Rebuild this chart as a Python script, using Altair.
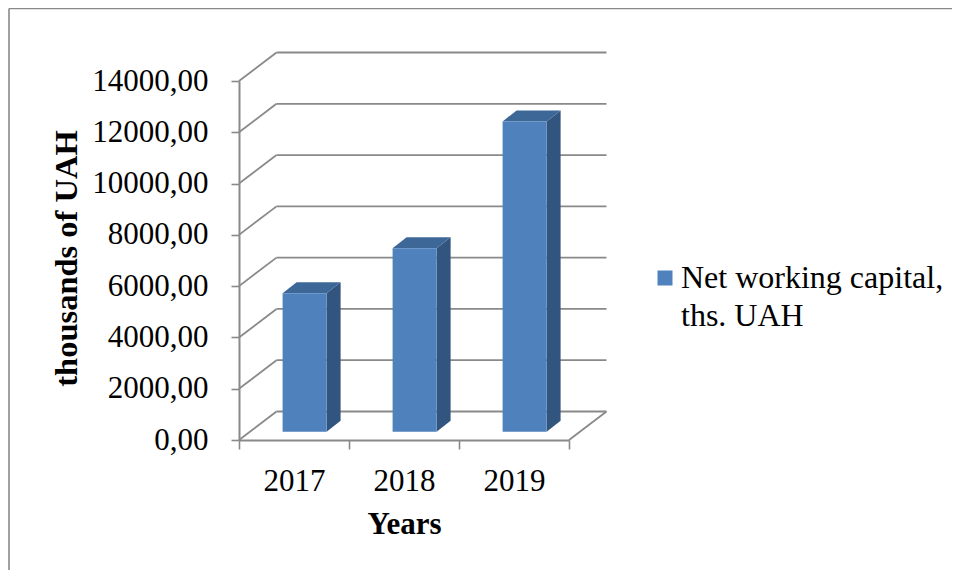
import json
import altair as alt
import pandas as pd

# ---------------- data ----------------
years = ["2017", "2018", "2019"]
values = [5400, 7150, 12100]
series_name = "Net working capital, ths. UAH"
legend_lines = ["Net working capital,", "ths. UAH"]
y_ticks = [0, 2000, 4000, 6000, 8000, 10000, 12000, 14000]
x_title = "Years"
y_title = "thousands of UAH"

# ---------------- geometry / style constants ----------------
W, H = 330, 359            # front plane of the 3-D frame (plot area)
Y_MAX = 14000
N = len(years)
UX = N / W                 # data units per pixel (x)
UY = Y_MAX / H             # data units per pixel (y)

WALL_DX, WALL_DY = 37.5, 28.5        # depth of the frame, px (right / up)
BAR_DX, BAR_DY = 10.6, 8.3           # bar front plane inside the frame, px
BAR_DEPTH_DX, BAR_DEPTH_DY = 14.0, 11.0
BAR_W = 44.0

FRONT = "#4F81BD"
TOP = "#3D6797"
SIDE = "#32557F"
GRID = "#898989"
FONT = "Liberation Serif"

# ---------------- frame (walls / floor) ----------------
wdx, wdy = WALL_DX * UX, WALL_DY * UY
grid_rows = []
for v in y_ticks:
    grid_rows.append(dict(x=wdx, x2=N + wdx, y=v + wdy, y2=v + wdy))   # back wall
    grid_rows.append(dict(x=0.0, x2=wdx, y=v, y2=v + wdy))             # side wall
grid_rows.append(dict(x=float(N), x2=N + wdx, y=0.0, y2=wdy))           # floor edge
grid = pd.DataFrame(grid_rows)

# ---------------- bars ----------------
bdx, bdy = BAR_DEPTH_DX * UX, BAR_DEPTH_DY * UY
front_rows, side_rows, top_rows = [], [], []
for i, (yr, v) in enumerate(zip(years, values)):
    xl = i + 0.5 + (BAR_DX - BAR_W / 2) * UX
    xr = xl + BAR_W * UX
    y0 = BAR_DY * UY
    yt = v + y0
    front_rows.append(dict(year=yr, series=series_name, x=xl, x2=xr, y=yt, y2=y0))
    side_rows += [dict(year=yr, x=xr, y=yt, y2=y0),
                  dict(year=yr, x=xr + bdx, y=yt + bdy, y2=y0 + bdy)]
    top_rows += [dict(year=yr, x=xl, y=yt, y2=yt),
                 dict(year=yr, x=xl + bdx, y=yt, y2=yt + bdy),
                 dict(year=yr, x=xr, y=yt, y2=yt + bdy),
                 dict(year=yr, x=xr + bdx, y=yt + bdy, y2=yt + bdy)]
front = pd.DataFrame(front_rows)
side = pd.DataFrame(side_rows)
top = pd.DataFrame(top_rows)

xs = alt.Scale(domain=[0, N], nice=False, zero=False)
ys = alt.Scale(domain=[0, Y_MAX], nice=False, zero=False)

x_vals = [k / 2 for k in range(2 * N + 1)]
x_label_expr = "datum.value % 1 == 0 ? '' : " + json.dumps(years) + "[floor(datum.value)]"

x_axis = alt.Axis(
    values=x_vals, labelExpr=x_label_expr, title=x_title, grid=False,
    tickSize=9, tickOpacity={"condition": {"test": "datum.value % 1 == 0", "value": 1}, "value": 0},
    labelFontSize=31, labelBaseline="alphabetic", labelPadding=41,
    labelFlush=False, labelOverlap=False,
    titleFontSize=31, titleFontWeight="bold", titleBaseline="alphabetic",
    titleX=W / 2, titleY=93,
)
y_axis = alt.Axis(
    values=y_ticks, labelExpr="replace(format(datum.value, '.2f'), '.', ',')",
    title=y_title, grid=False, tickSize=8, labelPadding=23, labelFontSize=31,
    labelBaseline="middle", labelFlush=False, labelOverlap=False,
    titleFontSize=32.5, titleFontWeight="bold", titleAngle=270,
    titleBaseline="middle", titleX=-173, titleY=177,
)


def X(field):
    return alt.X(field, scale=xs, axis=x_axis)


def Y(field, **kw):
    return alt.Y(field, scale=ys, axis=y_axis, **kw)


grid_layer = alt.Chart(grid).mark_rule(color=GRID, strokeWidth=1.8).encode(
    x=X("x:Q"), x2="x2:Q", y=Y("y:Q"), y2="y2:Q",
)

side_layer = alt.Chart(side).mark_area(fill=SIDE, fillOpacity=1, line=False).encode(
    x=X("x:Q"), y=Y("y:Q", stack=False), y2="y2:Q", detail="year:N",
)

top_layer = alt.Chart(top).mark_area(fill=TOP, fillOpacity=1, line=False).encode(
    x=X("x:Q"), y=Y("y:Q", stack=False), y2="y2:Q", detail="year:N",
)

front_layer = alt.Chart(front).mark_rect(opacity=1).encode(
    x=X("x:Q"), x2="x2:Q", y=Y("y:Q"), y2="y2:Q",
    color=alt.Color(
        "series:N",
        scale=alt.Scale(domain=[series_name], range=[FRONT]),
        legend=alt.Legend(
            title=None, orient="none", legendX=410, legendY=181,
            symbolType="square", symbolSize=225, symbolStrokeWidth=0,
            symbolFillColor=FRONT, labelOffset=0, labelLimit=0,
            labelFont=FONT, labelFontSize=32, labelColor="black",
            labelExpr=json.dumps(legend_lines), padding=0,
        ),
    ),
)

one = pd.DataFrame({"k": [0]})
border_v = alt.Chart(one).mark_rule(color=GRID, strokeWidth=1.6).encode(
    x=alt.value(-230), y=alt.value(-72.5), y2=alt.value(H + 200)
)
border_h = alt.Chart(one).mark_rule(color=GRID, strokeWidth=1.6).encode(
    x=alt.value(-230), x2=alt.value(W + 400), y=alt.value(-72.5)
)

chart = alt.layer(
    grid_layer, side_layer, top_layer, front_layer, border_v, border_h
).properties(
    width=W, height=H,
    autosize=alt.AutoSizeParams(type="none"),
    padding={"left": 231, "top": 73, "right": 383, "bottom": 130},
    background="white",
).configure(
    style={"guide-label": {"lineHeight": 38}}
).configure_view(
    stroke=None
).configure_axis(
    labelFont=FONT, titleFont=FONT, labelColor="black", titleColor="black",
    domainColor=GRID, tickColor=GRID, domainWidth=2, tickWidth=1.6,
)

chart.save("out.html", embed_options={"renderer": "svg", "actions": False})
